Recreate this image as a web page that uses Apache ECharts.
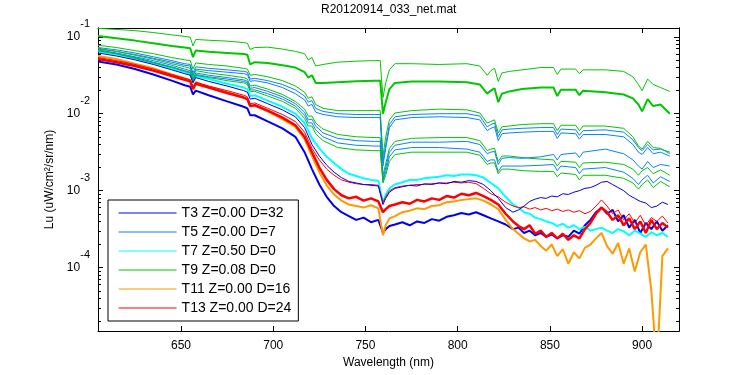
<!DOCTYPE html>
<html>
<head>
<meta charset="utf-8">
<title>R20120914_033_net.mat</title>
<script src="https://cdn.jsdelivr.net/npm/echarts@6.0.0/dist/echarts.min.js"></script>
<style>
  html, body { margin: 0; padding: 0; background: #fff; }
  #chart { width: 750px; height: 375px; }
</style>
</head>
<body>
<div id="chart"></div>
<script>
// wavelength grids (nm): A for the smooth upper spectra, B for the noisy lower ones
const wlA = [605, 615, 625, 635, 645, 652, 655, 656.5, 658, 665,
  675, 684, 686, 687.5, 690, 697, 705, 712, 717, 719,
  721, 723, 727, 735, 745, 755, 758, 759.5, 761, 763,
  766, 775, 790, 805, 812, 816, 818, 820, 822, 824,
  828, 835, 845, 852, 854, 856, 864, 866, 868, 880,
  890, 895, 898, 900, 903, 906, 910, 915]
const wlB = [605, 615, 625, 635, 645, 652, 655, 656.5, 658, 665,
  675, 684, 686, 687.5, 690, 697, 705, 712, 717, 721,
  725, 729, 733, 737, 741, 745, 749, 753, 757, 759.5,
  761, 763, 766, 770, 774, 778, 782, 786, 790, 794,
  798, 802, 806, 810, 814, 818, 822, 826, 830, 833,
  836, 839, 842, 845, 848, 851, 854, 857, 860, 863,
  866, 869, 872, 875, 878, 881, 884, 887, 890, 893,
  896, 899, 902, 905, 908, 911, 914]

// tick positions
const xTicks = [650, 700, 750, 800, 850, 900]
const yDecades = [1e-4, 1e-3, 1e-2, 1e-1]

// log10(Lu)
const green1 = [-0.89, -0.905, -0.92, -0.945, -0.975, -0.995, -1.005, -1.12, -1.035, -1.045,
  -1.057, -1.075, -1.085, -1.165, -1.14, -1.135, -1.16, -1.19, -1.22, -1.30,
  -1.27, -1.38, -1.36, -1.33, -1.317, -1.31, -1.31, -1.79, -1.60, -1.43,
  -1.35, -1.35, -1.36, -1.35, -1.38, -1.50, -1.44, -1.41, -1.58, -1.47,
  -1.45, -1.43, -1.40, -1.40, -1.49, -1.42, -1.42, -1.48, -1.43, -1.43,
  -1.45, -1.52, -1.62, -1.70, -1.55, -1.62, -1.66, -1.71]
const green2 = [-0.99, -1.02, -1.05, -1.085, -1.12, -1.14, -1.15, -1.265, -1.18, -1.195,
  -1.21, -1.225, -1.235, -1.36, -1.33, -1.34, -1.37, -1.40, -1.46, -1.53,
  -1.50, -1.60, -1.60, -1.59, -1.577, -1.57, -1.57, -2.0, -1.85, -1.68,
  -1.60, -1.58, -1.58, -1.59, -1.62, -1.74, -1.70, -1.67, -1.85, -1.74,
  -1.71, -1.68, -1.66, -1.66, -1.77, -1.69, -1.69, -1.76, -1.70, -1.72,
  -1.75, -1.80, -1.88, -1.97, -1.81, -1.90, -1.88, -2.0]
const green3 = [-1.11, -1.14, -1.18, -1.22, -1.27, -1.30, -1.31, -1.42, -1.34, -1.36,
  -1.38, -1.41, -1.42, -1.50, -1.49, -1.52, -1.57, -1.64, -1.72, -1.80,
  -1.78, -1.88, -1.93, -1.96, -1.96, -1.96, -1.96, -2.55, -2.30, -2.08,
  -1.99, -1.96, -1.94, -1.95, -1.99, -2.12, -2.10, -2.08, -2.25, -2.17,
  -2.16, -2.14, -2.13, -2.13, -2.22, -2.15, -2.15, -2.22, -2.16, -2.16,
  -2.19, -2.30, -2.42, -2.46, -2.36, -2.44, -2.45, -2.52]
const green4 = [-1.15, -1.19, -1.24, -1.29, -1.35, -1.39, -1.41, -1.52, -1.44, -1.47,
  -1.50, -1.53, -1.55, -1.64, -1.63, -1.68, -1.75, -1.84, -1.94, -2.03,
  -2.03, -2.12, -2.20, -2.27, -2.30, -2.31, -2.31, -2.80, -2.65, -2.45,
  -2.36, -2.32, -2.31, -2.31, -2.35, -2.48, -2.46, -2.45, -2.62, -2.55,
  -2.55, -2.57, -2.59, -2.60, -2.68, -2.62, -2.63, -2.70, -2.64, -2.63,
  -2.66, -2.72, -2.80, -2.74, -2.70, -2.78, -2.73, -2.80]
const green5 = [-1.18, -1.22, -1.28, -1.34, -1.40, -1.45, -1.47, -1.58, -1.50, -1.53,
  -1.57, -1.60, -1.62, -1.71, -1.71, -1.77, -1.84, -1.93, -2.06, -2.16,
  -2.16, -2.26, -2.35, -2.44, -2.47, -2.48, -2.48, -2.90, -2.80, -2.62,
  -2.53, -2.50, -2.50, -2.50, -2.54, -2.66, -2.64, -2.64, -2.78, -2.72,
  -2.72, -2.74, -2.75, -2.75, -2.82, -2.77, -2.79, -2.86, -2.80, -2.80,
  -2.84, -2.90, -2.98, -2.92, -2.86, -2.96, -2.88, -2.95]
const dodger1 = [-1.14, -1.17, -1.21, -1.26, -1.31, -1.35, -1.36, -1.47, -1.39, -1.41,
  -1.43, -1.45, -1.46, -1.55, -1.54, -1.57, -1.62, -1.69, -1.77, -1.85,
  -1.83, -1.93, -1.97, -2.00, -2.01, -2.01, -2.01, -2.62, -2.40, -2.14,
  -2.04, -2.01, -2.00, -2.00, -2.03, -2.17, -2.14, -2.12, -2.30, -2.21,
  -2.20, -2.19, -2.18, -2.18, -2.27, -2.20, -2.21, -2.28, -2.22, -2.21,
  -2.24, -2.34, -2.44, -2.48, -2.40, -2.47, -2.46, -2.50]
const dodger2 = [-1.16, -1.19, -1.23, -1.28, -1.33, -1.37, -1.38, -1.50, -1.42, -1.44,
  -1.46, -1.48, -1.49, -1.58, -1.57, -1.60, -1.66, -1.74, -1.82, -1.90,
  -1.88, -1.98, -2.01, -2.04, -2.05, -2.05, -2.05, -2.68, -2.45, -2.18,
  -2.08, -2.05, -2.04, -2.05, -2.08, -2.22, -2.19, -2.17, -2.35, -2.26,
  -2.25, -2.24, -2.23, -2.23, -2.32, -2.25, -2.26, -2.33, -2.27, -2.27,
  -2.30, -2.40, -2.50, -2.53, -2.44, -2.52, -2.50, -2.55]
const dodger3 = [-1.17, -1.21, -1.26, -1.31, -1.37, -1.42, -1.44, -1.55, -1.47, -1.50,
  -1.53, -1.56, -1.58, -1.67, -1.66, -1.71, -1.78, -1.87, -1.98, -2.08,
  -2.07, -2.16, -2.25, -2.32, -2.35, -2.36, -2.36, -2.85, -2.70, -2.50,
  -2.41, -2.37, -2.37, -2.36, -2.40, -2.52, -2.50, -2.49, -2.66, -2.58,
  -2.57, -2.58, -2.56, -2.53, -2.60, -2.53, -2.51, -2.57, -2.50, -2.46,
  -2.52, -2.60, -2.68, -2.72, -2.62, -2.70, -2.66, -2.68]
const dodger4 = [-1.18, -1.22, -1.27, -1.33, -1.39, -1.44, -1.46, -1.57, -1.49, -1.52,
  -1.55, -1.58, -1.60, -1.69, -1.69, -1.74, -1.81, -1.90, -2.02, -2.12,
  -2.12, -2.21, -2.30, -2.38, -2.41, -2.42, -2.42, -2.88, -2.75, -2.56,
  -2.47, -2.44, -2.44, -2.46, -2.50, -2.62, -2.60, -2.60, -2.75, -2.68,
  -2.68, -2.68, -2.67, -2.66, -2.74, -2.68, -2.70, -2.78, -2.72, -2.70,
  -2.76, -2.84, -2.92, -2.86, -2.80, -2.90, -2.82, -2.88]

const cyanMain = [-1.19, -1.23, -1.28, -1.34, -1.41, -1.46, -1.48, -1.58, -1.51, -1.55,
  -1.61, -1.66, -1.68, -1.77, -1.76, -1.83, -1.91, -2.00, -2.12, -2.32,
  -2.45, -2.56, -2.64, -2.72, -2.78, -2.81, -2.84, -2.86, -2.87, -3.15,
  -3.05, -2.97, -2.92, -2.89, -2.86, -2.86, -2.84, -2.83, -2.82, -2.80,
  -2.81, -2.79, -2.79, -2.80, -2.83, -2.90, -2.97, -3.08, -3.18, -3.22,
  -3.28, -3.30, -3.35, -3.37, -3.40, -3.42, -3.46, -3.43, -3.48, -3.45,
  -3.50, -3.47, -3.52, -3.50, -3.48, -3.52, -3.55, -3.50, -3.53, -3.58,
  -3.52, -3.56, -3.60, -3.54, -3.58, -3.55, -3.60]
const redMain = [-1.29, -1.33, -1.38, -1.44, -1.51, -1.56, -1.58, -1.68, -1.61, -1.66,
  -1.73, -1.79, -1.81, -1.90, -1.89, -1.96, -2.05, -2.15, -2.30, -2.50,
  -2.70, -2.86, -2.98, -3.06, -3.10, -3.08, -3.13, -3.10, -3.14, -3.28,
  -3.24, -3.20, -3.18, -3.15, -3.17, -3.12, -3.14, -3.10, -3.12, -3.07,
  -3.09, -3.04, -3.06, -3.03, -3.07, -3.12, -3.18, -3.30, -3.40, -3.46,
  -3.50, -3.45, -3.56, -3.52, -3.60, -3.55, -3.62, -3.56, -3.64, -3.58,
  -3.62, -3.50, -3.42, -3.30, -3.22, -3.28, -3.38, -3.32, -3.45, -3.36,
  -3.50, -3.40, -3.55, -3.38, -3.50, -3.42, -3.48]
const redThin = [-1.27, -1.31, -1.36, -1.42, -1.49, -1.54, -1.56, -1.66, -1.59, -1.64,
  -1.70, -1.76, -1.78, -1.87, -1.86, -1.93, -2.01, -2.10, -2.24, -2.45,
  -2.60, -2.72, -2.80, -2.86, -2.89, -2.91, -2.92, -2.92, -2.93, -3.15,
  -3.08, -3.00, -2.96, -2.94, -2.93, -2.92, -2.92, -2.91, -2.90, -2.90,
  -2.89, -2.90, -2.89, -2.91, -2.97, -3.04, -3.08, -3.15, -3.20, -3.22,
  -3.21, -3.24, -3.22, -3.25, -3.23, -3.26, -3.24, -3.27, -3.25, -3.28,
  -3.26, -3.30, -3.27, -3.20, -3.12, -3.20, -3.30, -3.25, -3.38, -3.30,
  -3.42, -3.32, -3.45, -3.35, -3.40, -3.33, -3.42]
const orangeMain = [-1.25, -1.29, -1.35, -1.41, -1.49, -1.54, -1.56, -1.66, -1.59, -1.65,
  -1.72, -1.79, -1.81, -1.90, -1.89, -1.97, -2.07, -2.17, -2.33, -2.55,
  -2.76, -2.93, -3.05, -3.13, -3.18, -3.20, -3.22, -3.19, -3.23, -3.58,
  -3.45, -3.36, -3.33, -3.28, -3.26, -3.23, -3.24, -3.20, -3.19, -3.15,
  -3.14, -3.12, -3.11, -3.10, -3.13, -3.18, -3.24, -3.38, -3.50, -3.56,
  -3.62, -3.66, -3.64, -3.72, -3.78, -3.70, -3.85, -3.76, -3.95, -3.80,
  -3.88, -3.74, -3.70, -3.62, -3.55, -3.72, -3.82, -3.68, -3.95, -3.75,
  -4.05, -3.80, -3.70, -4.30, -5.30, -3.85, -3.75]
const blueLow = [-1.32, -1.36, -1.42, -1.49, -1.57, -1.63, -1.65, -1.75, -1.70, -1.76,
  -1.84, -1.91, -1.93, -2.02, -2.02, -2.10, -2.19, -2.30, -2.50, -2.72,
  -2.92, -3.08, -3.20, -3.28, -3.33, -3.38, -3.35, -3.41, -3.38, -3.55,
  -3.50, -3.46, -3.44, -3.41, -3.45, -3.40, -3.42, -3.37, -3.39, -3.34,
  -3.32, -3.29, -3.31, -3.28, -3.32, -3.36, -3.40, -3.44, -3.50, -3.48,
  -3.55, -3.52, -3.58, -3.55, -3.60, -3.57, -3.62, -3.58, -3.60, -3.52,
  -3.56, -3.45, -3.38, -3.28, -3.22, -3.30, -3.25, -3.40, -3.32, -3.48,
  -3.38, -3.55, -3.42, -3.50, -3.40, -3.52, -3.45]
const blueThin = [-1.21, -1.25, -1.30, -1.36, -1.43, -1.48, -1.50, -1.60, -1.53, -1.58,
  -1.64, -1.70, -1.72, -1.81, -1.80, -1.87, -1.95, -2.04, -2.18, -2.40,
  -2.55, -2.67, -2.76, -2.83, -2.88, -2.90, -2.92, -2.93, -2.94, -3.18,
  -3.10, -3.02, -2.97, -2.95, -2.93, -2.94, -2.91, -2.92, -2.90, -2.91,
  -2.88, -2.89, -2.87, -2.88, -2.92, -3.00, -3.10, -3.22, -3.28, -3.25,
  -3.20, -3.14, -3.11, -3.09, -3.10, -3.07, -3.08, -3.04, -3.05, -3.02,
  -3.00, -2.97, -2.96, -2.93, -2.89, -2.88, -2.92, -2.96, -3.00, -3.06,
  -3.10, -3.14, -3.16, -3.22, -3.20, -3.15, -3.18]

const legendNames = ['T3 Z=0.00 D=32', 'T5 Z=0.00 D=7', 'T7 Z=0.50 D=0',
  'T9 Z=0.08 D=0', 'T11 Z=0.00 D=16', 'T13 Z=0.00 D=24']

const BLUE = '#0000f0'
const DODGER = '#0a80ff'
const CYAN = '#00ffff'
const GREEN = '#00c800'
const ORANGE = '#ff9900'
const RED = '#ff0000'
const FONT = 'Liberation Sans, Arial, Helvetica, sans-serif'

// minor ticks of the log axis: 2..9 times each decade
const yMinor = []
;[1e-5, 1e-4, 1e-3, 1e-2, 1e-1].forEach(d => {
  for (let k = 2; k <= 9; k++) yMinor.push(+(k * d).toPrecision(3))
})

// one line of the plot, values are stored as log10 and drawn on the log axis
const line = (name, wl, logs, color, width) => ({
  name: name,
  type: 'line',
  data: wl.map((w, i) => [w, Math.pow(10, logs[i])]),
  symbol: 'none',
  showSymbol: false,
  silent: true,
  clip: true,
  color: color,
  lineStyle: { color: color, width: width }
})

const series = [
  line(legendNames[0], wlB, blueLow, BLUE, 2),
  line(legendNames[1], wlA, dodger1, DODGER, 1),
  line(legendNames[2], wlB, cyanMain, CYAN, 2),
  line(legendNames[3], wlA, green1, GREEN, 1),
  line(legendNames[4], wlB, orangeMain, ORANGE, 2),
  line(legendNames[5], wlB, redMain, RED, 2.5),
  line('T9 b', wlA, green2, GREEN, 2),
  line('T9 c', wlA, green3, GREEN, 1),
  line('T5 b', wlA, dodger2, DODGER, 1),
  line('T9 d', wlA, green4, GREEN, 1),
  line('T5 c', wlA, dodger3, DODGER, 1),
  line('T5 d', wlA, dodger4, DODGER, 1),
  line('T9 e', wlA, green5, GREEN, 1),
  line('T13 b', wlB, redThin, RED, 1),
  line('T3 b', wlB, blueThin, BLUE, 1)
]

const axisLine = { show: true, onZero: false, lineStyle: { color: '#000', width: 1 } }
const tick = (values, len) => ({
  show: true, inside: true, length: len, customValues: values,
  lineStyle: { color: '#000', width: 1 }
})

const xAxisBase = (pos) => ({
  type: 'value',
  min: 605,
  max: 920,
  position: pos,
  axisLine: axisLine,
  axisTick: tick(xTicks, 5),
  splitLine: { show: false },
  axisLabel: { show: false }
})

const yAxisBase = (pos, values, len) => ({
  type: 'log',
  logBase: 10,
  min: 1.5e-5,
  max: 0.13,
  position: pos,
  axisLine: axisLine,
  axisTick: tick(values, len),
  minorTick: { show: false },
  splitLine: { show: false },
  axisLabel: { show: false }
})

const xMain = xAxisBase('bottom')
xMain.axisLabel = {
  show: true, color: '#000', fontSize: 12, fontFamily: FONT, margin: 9,
  customValues: xTicks
}
xMain.name = 'Wavelength (nm)'
xMain.nameLocation = 'middle'
xMain.nameGap = 20
xMain.nameTextStyle = { color: '#000', fontSize: 12, fontFamily: FONT }

const yMain = yAxisBase('left', yDecades, 5)
yMain.axisLabel = {
  show: true,
  margin: 8,
  customValues: yDecades,
  formatter: function (v) {
    const e = Math.round(Math.log10(v))
    return '{b|10}{e|' + e + '}'
  },
  rich: {
    b: { color: '#000', fontSize: 12, lineHeight: 12, fontFamily: FONT },
    e: { color: '#000', fontSize: 11, lineHeight: 11, fontFamily: FONT, padding: [0, 0, 26, 0] }
  }
}
yMain.name = 'Lu (uW/cm²/sr/nm)'
yMain.nameLocation = 'middle'
yMain.nameRotate = 90
yMain.nameGap = 41
yMain.nameTextStyle = { color: '#000', fontSize: 12, fontFamily: FONT }

const chart = echarts.init(document.getElementById('chart'), null, { renderer: 'canvas' })

chart.setOption({
  animation: false,
  backgroundColor: '#fff',
  title: {
    text: 'R20120914_033_net.mat',
    left: 321,
    top: 4,
    padding: 0,
    textStyle: { color: '#000', fontSize: 12, fontWeight: 'normal', fontFamily: FONT }
  },
  legend: {
    data: legendNames,
    orient: 'vertical',
    left: 108,
    top: 200,
    padding: [6, 7, 6, 10],
    itemGap: 5,
    itemWidth: 58,
    itemHeight: 14,
    backgroundColor: '#fff',
    borderColor: '#000',
    borderWidth: 1,
    borderRadius: 0,
    selectedMode: false,
    itemStyle: { color: 'transparent', borderWidth: 0, opacity: 0 },
    lineStyle: { width: 1.2 },
    textStyle: { color: '#000', fontSize: 14, fontFamily: FONT }
  },
  grid: { left: 98, right: 71, top: 28, bottom: 44, containLabel: false },
  xAxis: [xMain, xAxisBase('top')],
  yAxis: [
    yMain,
    yAxisBase('right', yDecades, 5),
    yAxisBase('left', yMinor, 3),
    yAxisBase('right', yMinor, 3)
  ],
  series: series
})
</script>
</body>
</html>
